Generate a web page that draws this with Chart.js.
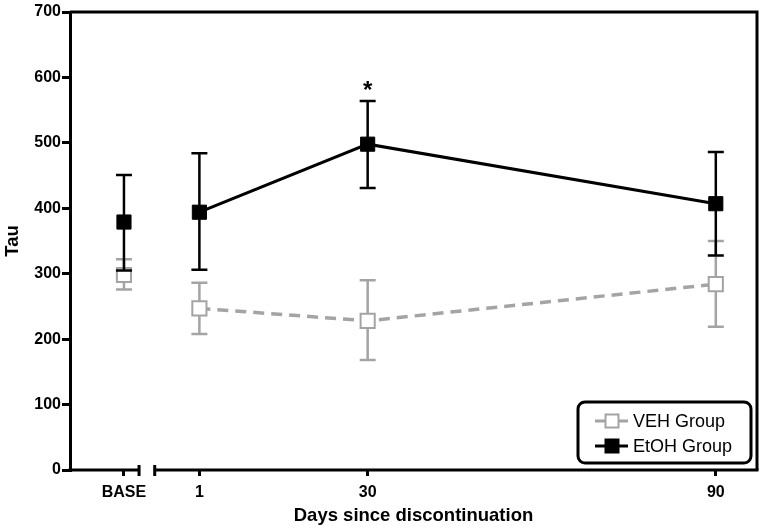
<!DOCTYPE html>
<html>
<head>
<meta charset="utf-8">
<script src="https://cdn.jsdelivr.net/npm/chart.js@4"></script>
<style>
  body { margin: 0; background: #fff; }
  #wrap { width: 764px; height: 531px; }
</style>
</head>
<body>
<div id="wrap"><canvas id="myChart"></canvas></div>
<script>
// 데이터
const dayLabels = ['BASE', '1', '30', '90'];
const dayPositions = [-12, 1, 30, 90];
const vehMean = [298, 247, 228, 284];
const vehHigh = [322, 286, 290, 350];
const vehLow = [276, 208, 168, 219];
const etohMean = [379, 394, 498, 407];
const etohHigh = [451, 484, 564, 486];
const etohLow = [305, 306, 431, 328];
const breakFrom = -9.4, breakTo = -6.7;

const FONT = '"Liberation Sans", Arial, sans-serif';
const GRAY = '#a4a4a4';

function points(means) {
    return means.map((m, i) => ({ x: dayPositions[i], y: m }));
}

// 에러바 그리기 (각 데이터셋 직전)
const errorBars = {
    id: 'errorBars',
    beforeDatasetDraw(chart, args) {
        const ds = chart.data.datasets[args.index];
        const ctx = chart.ctx;
        const xs = chart.scales.x, ys = chart.scales.y;
        ctx.save();
        ctx.strokeStyle = ds.borderColor;
        ctx.lineWidth = 2.5;
        ds.errHigh.forEach((hi, i) => {
            const x = xs.getPixelForValue(dayPositions[i]);
            const y1 = ys.getPixelForValue(hi);
            const y2 = ys.getPixelForValue(ds.errLow[i]);
            ctx.beginPath();
            ctx.moveTo(x, y1); ctx.lineTo(x, y2);
            ctx.moveTo(x - 8, y1); ctx.lineTo(x + 8, y1);
            ctx.moveTo(x - 8, y2); ctx.lineTo(x + 8, y2);
            ctx.stroke();
        });
        ctx.restore();
    }
};

// 테두리, 끊긴 x축, 별표, 범례
const frame = {
    id: 'frame',
    afterDraw(chart) {
        const ctx = chart.ctx;
        const a = chart.chartArea;
        const xs = chart.scales.x, ys = chart.scales.y;
        ctx.save();
        ctx.strokeStyle = '#000';
        ctx.lineWidth = 3;
        ctx.beginPath();
        ctx.moveTo(a.left, a.top); ctx.lineTo(a.right, a.top); ctx.lineTo(a.right, a.bottom);
        ctx.stroke();

        const b1 = xs.getPixelForValue(breakFrom), b2 = xs.getPixelForValue(breakTo);
        ctx.beginPath();
        ctx.moveTo(a.left - 1.5, a.bottom); ctx.lineTo(b1, a.bottom);
        ctx.moveTo(b2, a.bottom); ctx.lineTo(a.right + 1.5, a.bottom);
        ctx.moveTo(b1, a.bottom - 5); ctx.lineTo(b1, a.bottom + 6);
        ctx.moveTo(b2, a.bottom - 5); ctx.lineTo(b2, a.bottom + 6);
        ctx.stroke();

        // 유의성 표시
        ctx.fillStyle = '#000';
        ctx.font = 'bold 24px ' + FONT;
        ctx.textAlign = 'center';
        ctx.textBaseline = 'middle';
        ctx.fillText('*', xs.getPixelForValue(30), ys.getPixelForValue(etohHigh[2]) - 10);

        // 범례
        const w = 173, h = 61;
        const lx = a.right - 6 - w, ly = a.bottom - 7 - h;
        ctx.lineWidth = 3;
        ctx.beginPath();
        ctx.roundRect(lx, ly, w, h, 7);
        ctx.fillStyle = '#fff';
        ctx.fill();
        ctx.stroke();
        const rows = [
            { label: 'VEH Group', color: GRAY, fill: '#fff', y: ly + 19 },
            { label: 'EtOH Group', color: '#000', fill: '#000', y: ly + 44 }
        ];
        rows.forEach(r => {
            const cx = lx + 34;
            ctx.strokeStyle = r.color;
            ctx.lineWidth = 3;
            ctx.beginPath();
            ctx.moveTo(cx - 17, r.y); ctx.lineTo(cx + 16, r.y);
            ctx.stroke();
            ctx.fillStyle = r.fill;
            ctx.lineWidth = 2;
            ctx.fillRect(cx - 6.5, r.y - 6.5, 13, 13);
            ctx.strokeRect(cx - 6.5, r.y - 6.5, 13, 13);
            ctx.fillStyle = '#000';
            ctx.font = '18px ' + FONT;
            ctx.textAlign = 'left';
            ctx.fillText(r.label, lx + 55, r.y + 1);
        });
        ctx.restore();
    }
};

const tickFont = { family: FONT, size: 16, weight: 'bold' };
const titleFont = { family: FONT, size: 18.5, weight: 'bold' };

new Chart(document.getElementById('myChart'), {
    type: 'line',
    data: {
        datasets: [{
            label: 'EtOH Group',
            data: points(etohMean),
            errHigh: etohHigh,
            errLow: etohLow,
            borderColor: '#000',
            backgroundColor: '#000',
            borderWidth: 3,
            pointStyle: 'rect',
            pointRadius: 10,
            pointBorderWidth: 1,
            segment: { borderColor: c => c.p0DataIndex === 0 ? 'transparent' : '#000' }
        }, {
            label: 'VEH Group',
            data: points(vehMean),
            errHigh: vehHigh,
            errLow: vehLow,
            borderColor: GRAY,
            backgroundColor: '#fff',
            borderWidth: 3.5,
            borderDash: [11, 7],
            pointStyle: 'rect',
            pointRadius: 10,
            pointBorderWidth: 2,
            segment: { borderColor: c => c.p0DataIndex === 0 ? 'transparent' : GRAY }
        }]
    },
    options: {
        responsive: true,
        maintainAspectRatio: false,
        animation: false,
        layout: { autoPadding: false, padding: { top: 12, right: 7, left: 0, bottom: 0 } },
        plugins: { legend: { display: false }, tooltip: { enabled: false } },
        scales: {
            x: {
                type: 'linear',
                min: -21.3,
                max: 97.1,
                afterBuildTicks: s => { s.ticks = dayPositions.map(v => ({ value: v })); },
                afterFit: s => { s.height = 61; s.paddingLeft = 0; s.paddingRight = 0; },
                ticks: {
                    autoSkip: false,
                    maxRotation: 0,
                    padding: 7,
                    color: '#000',
                    font: tickFont,
                    callback: v => dayLabels[dayPositions.indexOf(v)]
                },
                grid: { drawOnChartArea: false, color: '#000', lineWidth: 3, tickLength: 6 },
                border: { display: false },
                title: { display: true, text: 'Days since discontinuation', color: '#000', font: titleFont, padding: { top: 4, bottom: 4 } }
            },
            y: {
                min: 0,
                max: 700,
                afterFit: s => { s.width = 70; s.paddingTop = 0; s.paddingBottom = 0; },
                ticks: { stepSize: 100, color: '#000', font: tickFont, padding: 1 },
                grid: { drawOnChartArea: false, color: '#000', lineWidth: 3, tickLength: 8 },
                border: { display: true, color: '#000', width: 3 },
                title: { display: true, text: 'Tau', color: '#000', font: titleFont, padding: { top: 2, bottom: 4 } }
            }
        }
    },
    plugins: [errorBars, frame]
});
</script>
</body>
</html>
